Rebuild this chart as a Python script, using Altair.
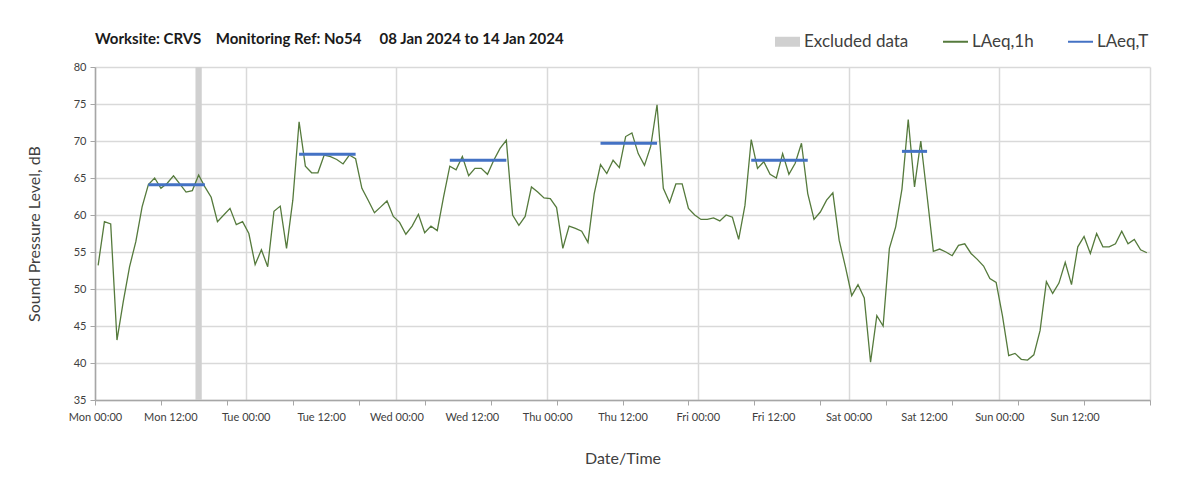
import altair as alt
import pandas as pd

# ---- data ----
laeq_1h = [
    53.2, 59.1, 58.8, 43.1, 48.3, 53.0, 56.4, 61.1, 64.1, 65.0, 63.6, 64.3,
    65.3, 64.2, 63.1, 63.3, 65.4, 63.8, 62.4, 59.1, 60.0, 60.9, 58.7, 59.1,
    57.5, 53.3, 55.3, 53.0, 60.5, 61.2, 55.5, 62.0, 72.6, 66.6, 65.7, 65.7,
    68.1, 67.9, 67.5, 66.9, 68.1, 67.6, 63.6, 62.0, 60.3, 61.1, 61.9, 59.8,
    59.0, 57.4, 58.5, 60.1, 57.6, 58.5, 57.9, 62.4, 66.6, 66.1, 67.9, 65.3,
    66.3, 66.3, 65.5, 67.4, 69.0, 70.1, 60.0, 58.6, 59.8, 63.8, 63.1, 62.3,
    62.2, 61.0, 55.5, 58.5, 58.2, 57.8, 56.3, 62.9, 66.8, 65.6, 67.4, 66.4,
    70.6, 71.1, 68.3, 66.7, 69.3, 74.9, 63.6, 61.7, 64.2, 64.2, 60.9, 60.0,
    59.4, 59.4, 59.6, 59.2, 60.0, 59.7, 56.7, 61.3, 70.2, 66.3, 67.2, 65.5,
    65.0, 68.3, 65.5, 67.0, 69.7, 62.9, 59.4, 60.4, 62.0, 63.0, 56.6, 53.0,
    49.1, 50.6, 48.8, 40.1, 46.4, 45.0, 55.5, 58.4, 63.5, 72.9, 63.8, 70.0,
    62.6, 55.1, 55.4, 55.0, 54.5, 55.9, 56.1, 54.8, 54.0, 53.1, 51.4, 50.9,
    46.4, 41.0, 41.3, 40.5, 40.4, 41.1, 44.4, 51.0, 49.4, 50.8, 53.6, 50.6,
    55.7, 57.1, 54.8, 57.5, 55.7, 55.7, 56.1, 57.8, 56.1, 56.7, 55.3, 54.9,
]
# LAeq,T periods: first and last hourly index covered, level
period_start = [8, 32, 56, 80, 104, 128]
period_end = [17, 41, 65, 89, 113, 132]
period_level = [64.1, 68.2, 67.4, 69.7, 67.4, 68.6]
# excluded hour (index from Mon 00:00)
excluded_start = [16]
excluded_end = [17]
day_names = ["Mon", "Tue", "Wed", "Thu", "Fri", "Sat", "Sun"]
series_names = ["Excluded data", "LAeq,1h", "LAeq,T"]
series_colors = ["#d0d0d0", "#557a3c", "#4472C4"]

GREEN = "#557a3c"
BLUE = "#4472C4"
FONT = "Lato"
TXT = "#404040"
AXC = "#a6a6a6"

line_df = pd.DataFrame({"hour": [i + 0.5 for i in range(len(laeq_1h))],
                        "level": laeq_1h})
per_df = pd.DataFrame({"h0": [s + 0.5 for s in period_start],
                       "h1": [e + 0.5 for e in period_end],
                       "level": period_level})
exc_df = pd.DataFrame({"h0": excluded_start, "h1": excluded_end,
                       "lo": [35] * len(excluded_start), "hi": [80] * len(excluded_start)})
leg_df = pd.DataFrame({"series": series_names})

label_vals = [12 * k for k in range(14)]
tick_vals = [10.5 * k for k in range(17)]
grid_vals = [24 * k for k in range(8)]
x_vals = sorted(set(label_vals) | set(tick_vals) | set(grid_vals))

day_list = "[" + ",".join("'" + d + "'" for d in day_names) + "]"

x_scale = alt.Scale(domain=[0, 168], nice=False, zero=False)
y_scale = alt.Scale(domain=[35, 80], nice=False, zero=False)

x_axis = alt.Axis(
    title="Date/Time", values=x_vals,
    labelExpr="datum.value % 12 === 0 && datum.value < 168 ? "
              + day_list + "[floor(datum.value/24)] + ' ' + "
              "(datum.value % 24 === 0 ? '00:00' : '12:00') : ''",
    labelOverlap=False, labelFont=FONT, labelFontSize=11, labelColor=TXT,
    labelPadding=6, labelFlush=False,
    tickOpacity={"condition": {"test": "datum.value % 10.5 === 0", "value": 1}, "value": 0},
    tickSize=5, tickColor=AXC,
    grid=True, gridColor="#d9d9d9", gridWidth=1.5,
    gridOpacity={"condition": {"test": "datum.value % 24 === 0", "value": 1}, "value": 0},
    domainColor=AXC, domainWidth=1.5,
    titleFont=FONT, titleFontSize=16, titleFontWeight="normal", titleColor=TXT,
    titlePadding=28,
)
y_axis = alt.Axis(
    title="Sound Pressure Level, dB", values=list(range(35, 81, 5)),
    labelFont=FONT, labelFontSize=11, labelColor=TXT, labelPadding=4,
    tickSize=5, tickColor=AXC,
    grid=True, gridColor="#d9d9d9", gridWidth=1.5,
    domainColor=AXC, domainWidth=1.5,
    titleFont=FONT, titleFontSize=16, titleFontWeight="normal", titleColor=TXT,
    titlePadding=31,
)

excluded = alt.Chart(exc_df).mark_rect(color="#d0d0d0").encode(
    x=alt.X("h0:Q", scale=x_scale, axis=x_axis),
    x2="h1:Q",
    y=alt.Y("lo:Q", scale=y_scale, axis=y_axis),
    y2="hi:Q",
)

line = alt.Chart(line_df).mark_line(color=GREEN, strokeWidth=1.3).encode(
    x=alt.X("hour:Q", scale=x_scale, axis=x_axis),
    y=alt.Y("level:Q", scale=y_scale, axis=y_axis),
)

periods = alt.Chart(per_df).mark_rule(color=BLUE, strokeWidth=3).encode(
    x=alt.X("h0:Q", scale=x_scale, axis=x_axis),
    x2="h1:Q",
    y=alt.Y("level:Q", scale=y_scale, axis=y_axis),
)

box = "M-1,-0.4H1V0.4H-1Z"
thin = "M-1,-0.08H1V0.08H-1Z"
leg = alt.Legend(
    title=None, orient="none", direction="horizontal",
    legendX=680, legendY=-38, columnPadding=34,
    labelFont=FONT, labelFontSize=17, labelColor=TXT,
    labelOffset=4, symbolSize=625, symbolOpacity=1, symbolStrokeWidth=0)
legend_layer = alt.Chart(leg_df).mark_point(filled=True, opacity=0).encode(
    x=alt.value(0), y=alt.value(0),
    color=alt.Color("series:N",
                    scale=alt.Scale(domain=series_names, range=series_colors),
                    legend=leg),
    shape=alt.Shape("series:N",
                    scale=alt.Scale(domain=series_names, range=[box, thin, thin]),
                    legend=leg),
)

nb = "\u00a0"
title_text = ("Worksite: CRVS" + nb * 4 + "Monitoring Ref: No54" + nb * 5 +
              "08 Jan 2024 to 14 Jan 2024")

chart = alt.layer(excluded, line, periods, legend_layer).properties(
    width=1055, height=333,
    padding={"left": 87, "top": 59, "right": 45, "bottom": 85},
    autosize=alt.AutoSizeParams(type="none"),
    background="white",
    title=alt.TitleParams(title_text, anchor="start", frame="group",
                          font=FONT, fontSize=15, fontWeight="bold",
                          color="#1a1a1a", offset=-18),
).configure_view(stroke=None)

chart.save("out.html", embed_options={"renderer": "svg", "actions": False})
